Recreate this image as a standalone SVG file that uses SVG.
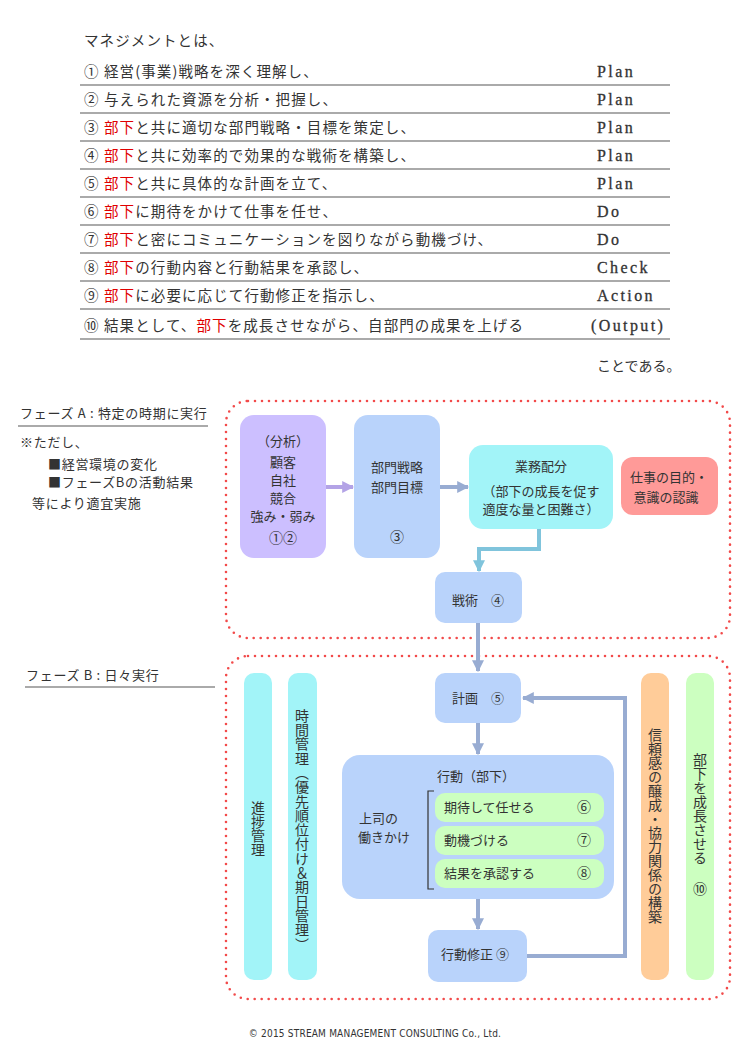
<svg xmlns="http://www.w3.org/2000/svg" width="750" height="1060" viewBox="0 0 750 1060">
<style>
text{font-family:"Noto Sans CJK JP","Noto Sans",sans-serif;fill:#333;}
.t{font-size:14.5px;letter-spacing:1.1px;}
.r{fill:#e00000;}
.p{font-family:"Liberation Serif","DejaVu Serif",serif;font-size:16px;letter-spacing:2.4px;fill:#333;stroke:#333;stroke-width:0.3px;}
.s{font-size:13px;}
.l{font-size:13px;letter-spacing:0.7px;}
.m{font-size:13px;text-anchor:middle;}
.v{font-size:14px;writing-mode:vertical-rl;text-anchor:middle;}
.rule{stroke:#aaa;stroke-width:2;}
.dot{fill:none;stroke:#f24a4a;stroke-width:2.6;stroke-dasharray:0 7;stroke-linecap:round;}
.con{fill:none;stroke:#98acd2;stroke-width:4;}
</style>
<defs>
<marker id="ah" viewBox="0 0 10 10" refX="9" refY="5" markerWidth="3" markerHeight="3" orient="auto"><path d="M0,0 L10,5 L0,10 z" fill="#98acd2"/></marker>
<marker id="ahp" viewBox="0 0 10 10" refX="9" refY="5" markerWidth="3" markerHeight="3" orient="auto"><path d="M0,0 L10,5 L0,10 z" fill="#b3a3e6"/></marker>
<marker id="aht" viewBox="0 0 10 10" refX="9" refY="5" markerWidth="3" markerHeight="3" orient="auto"><path d="M0,0 L10,5 L0,10 z" fill="#80c4dc"/></marker>
</defs>
<rect width="750" height="1060" fill="#fff"/>

<g id="list">
<text class="t" x="84" y="46">マネジメントとは、</text>
<text class="t" x="84" y="77">①<tspan x="104">経営(事業)戦略を深く理解し、</tspan></text>
<text class="t" x="84" y="105">②<tspan x="104">与えられた資源を分析・把握し、</tspan></text>
<text class="t" x="84" y="133">③<tspan x="104" class="r">部下</tspan>と共に適切な部門戦略・目標を策定し、</text>
<text class="t" x="84" y="161">④<tspan x="104" class="r">部下</tspan>と共に効率的で効果的な戦術を構築し、</text>
<text class="t" x="84" y="189">⑤<tspan x="104" class="r">部下</tspan>と共に具体的な計画を立て、</text>
<text class="t" x="84" y="217">⑥<tspan x="104" class="r">部下</tspan>に期待をかけて仕事を任せ、</text>
<text class="t" x="84" y="245">⑦<tspan x="104" class="r">部下</tspan>と密にコミュニケーションを図りながら動機づけ、</text>
<text class="t" x="84" y="273">⑧<tspan x="104" class="r">部下</tspan>の行動内容と行動結果を承認し、</text>
<text class="t" x="84" y="301">⑨<tspan x="104" class="r">部下</tspan>に必要に応じて行動修正を指示し、</text>
<text class="t" x="84" y="331">⑩<tspan x="104">結果として、</tspan><tspan class="r">部下</tspan>を成長させながら、自部門の成果を上げる</text>
<text class="p" x="597" y="77">Plan</text>
<text class="p" x="597" y="105">Plan</text>
<text class="p" x="597" y="133">Plan</text>
<text class="p" x="597" y="161">Plan</text>
<text class="p" x="597" y="189">Plan</text>
<text class="p" x="597" y="217">Do</text>
<text class="p" x="597" y="245">Do</text>
<text class="p" x="597" y="273">Check</text>
<text class="p" x="597" y="301">Action</text>
<text class="p" x="591" y="331">(Output)</text>
<line class="rule" x1="80" y1="85" x2="670" y2="85"/>
<line class="rule" x1="80" y1="113" x2="670" y2="113"/>
<line class="rule" x1="80" y1="141" x2="670" y2="141"/>
<line class="rule" x1="80" y1="169" x2="670" y2="169"/>
<line class="rule" x1="80" y1="197" x2="670" y2="197"/>
<line class="rule" x1="80" y1="225" x2="670" y2="225"/>
<line class="rule" x1="80" y1="253" x2="670" y2="253"/>
<line class="rule" x1="80" y1="281" x2="670" y2="281"/>
<line class="rule" x1="80" y1="309" x2="670" y2="309"/>
<line class="rule" x1="80" y1="339" x2="670" y2="339"/>
<text x="597" y="371" style="font-size:14px">ことである。</text>
</g>

<g id="phaseA-label">
<text class="l" x="20" y="418">フェーズ A : 特定の時期に実行</text>
<line class="rule" x1="18" y1="426" x2="208" y2="426"/>
<text class="l" x="20" y="447">※ただし、</text>
<text class="l" x="48" y="469">■経営環境の変化</text>
<text class="l" x="48" y="487">■フェーズBの活動結果</text>
<text class="l" x="32" y="508">等により適宜実施</text>
</g>
<g id="phaseB-label">
<text class="l" x="26" y="680">フェーズ B : 日々実行</text>
<line class="rule" x1="25" y1="687" x2="215" y2="687"/>
</g>

<g id="frameA"><rect class="dot" x="226" y="401" width="504" height="237" rx="22"/></g>
<g id="frameB"><rect class="dot" x="226" y="656" width="504" height="343" rx="22"/></g>

<g id="connectors">
<line x1="326" y1="487" x2="353" y2="487" stroke="#b3a3e6" stroke-width="4" marker-end="url(#ahp)"/>
<line class="con" x1="440" y1="487" x2="468" y2="487" marker-end="url(#ah)"/>
<polyline points="539,529 539,549 479,549 479,571" fill="none" stroke="#80c4dc" stroke-width="4" marker-end="url(#aht)"/>
<line class="con" x1="478" y1="623" x2="478" y2="671" marker-end="url(#ah)"/>
<line class="con" x1="478" y1="723" x2="478" y2="754" marker-end="url(#ah)"/>
<line class="con" x1="478" y1="899" x2="478" y2="929" marker-end="url(#ah)"/>
<polyline class="con" points="527,956 625,956 625,698 523,698" marker-end="url(#ah)"/>
</g>

<g id="analysis">
<rect x="240" y="415" width="86" height="143" rx="14" fill="#ccbfff"/>
<text class="m" x="283" y="446">（分析）</text>
<text class="m" x="283" y="467">顧客</text>
<text class="m" x="283" y="485">自社</text>
<text class="m" x="283" y="503">競合</text>
<text class="m" x="283" y="521">強み・弱み</text>
<text class="m" x="283" y="543" style="font-size:14px">①②</text>
</g>
<g id="dept-strategy">
<rect x="354" y="415" width="86" height="143" rx="14" fill="#b9d3fb"/>
<text class="m" x="397" y="472">部門戦略</text>
<text class="m" x="397" y="492">部門目標</text>
<text class="m" x="397" y="542" style="font-size:14px">③</text>
</g>
<g id="allocation">
<rect x="469" y="445" width="144" height="84" rx="14" fill="#a2f4f8"/>
<text class="m" x="541" y="471">業務配分</text>
<text class="m" x="541" y="496">（部下の成長を促す</text>
<text class="m" x="541" y="514">適度な量と困難さ）</text>
</g>
<g id="purpose">
<rect x="621" y="457" width="97" height="58" rx="12" fill="#ff9a98"/>
<text class="m" x="669" y="482">仕事の目的・</text>
<text class="m" x="666" y="502">意識の認識</text>
</g>
<g id="tactics">
<rect x="435" y="572" width="87" height="51" rx="10" fill="#b9d3fb"/>
<text class="m" x="478" y="605">戦術　④</text>
</g>
<g id="plan">
<rect x="435" y="673" width="86" height="50" rx="10" fill="#b9d3fb"/>
<text class="m" x="478" y="703">計画　⑤</text>
</g>
<g id="action">
<rect x="342" y="755" width="272" height="144" rx="18" fill="#b9d3fb"/>
<text class="m" x="476" y="781">行動（部下）</text>
<text class="s" x="359" y="823">上司の</text>
<text class="s" x="358" y="842">働きかけ</text>
<polyline points="434,791 428,791 428,889 434,889" fill="none" stroke="#333" stroke-width="1.2"/>
<rect x="435" y="793" width="169" height="29" rx="10" fill="#ccffc0"/>
<rect x="435" y="826" width="169" height="29" rx="10" fill="#ccffc0"/>
<rect x="435" y="859" width="169" height="29" rx="10" fill="#ccffc0"/>
<text class="s" x="444" y="812">期待して任せる</text>
<text class="s" x="444" y="845">動機づける</text>
<text class="s" x="444" y="878">結果を承認する</text>
<text class="m" x="584" y="812" style="font-size:14px">⑥</text>
<text class="m" x="584" y="845" style="font-size:14px">⑦</text>
<text class="m" x="584" y="878" style="font-size:14px">⑧</text>
</g>
<g id="correction">
<rect x="428" y="930" width="99" height="52" rx="10" fill="#b9d3fb"/>
<text class="s" x="441" y="959">行動修正 ⑨</text>
</g>
<g id="progress">
<rect x="244" y="673" width="28" height="307" rx="10" fill="#a2f4f8"/>
<text class="v" x="258" y="829">進捗管理</text>
</g>
<g id="time">
<rect x="288" y="673" width="29" height="307" rx="10" fill="#a2f4f8"/>
<text class="v" x="302" y="830" style="letter-spacing:0.3px">時間管理（優先順位付け＆期日管理）</text>
</g>
<g id="trust">
<rect x="641" y="673" width="28" height="307" rx="10" fill="#ffcc99"/>
<text class="v" x="655" y="826">信頼感の醸成・協力関係の構築</text>
</g>
<g id="grow">
<rect x="686" y="673" width="28" height="307" rx="10" fill="#ccffc0"/>
<text class="v" x="700" y="809">部下を成長させる</text>
<text class="m" x="700" y="894" style="font-size:14px">⑩</text>
</g>
<text x="375" y="1037" style="font-family:'DejaVu Sans Condensed','Liberation Sans',sans-serif;font-size:10px;text-anchor:middle;letter-spacing:0.2px;fill:#333">© 2015 STREAM MANAGEMENT CONSULTING Co., Ltd.</text>
</svg>
